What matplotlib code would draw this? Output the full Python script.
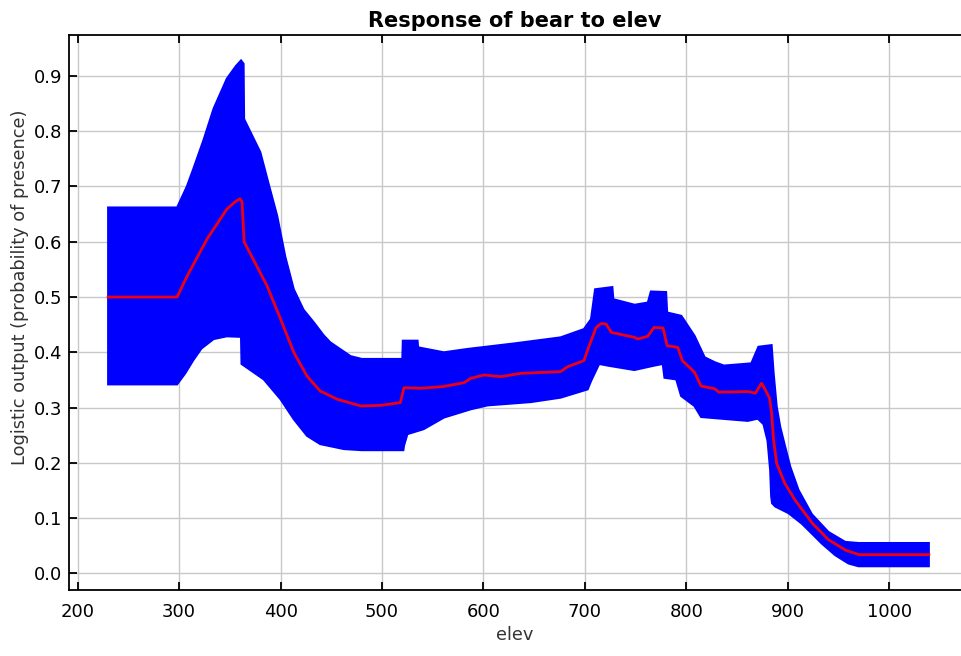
import matplotlib
matplotlib.use("Agg")
import matplotlib.pyplot as plt

# mean response (red line)
x_mean = [230, 298, 307.6, 327.5, 347, 355, 360, 362, 364, 386.7, 400, 413, 426, 439, 456, 479, 498.6, 518,
          521.6, 538, 560, 580.8, 587.5, 600.6, 617, 636.7, 676, 683, 699, 703, 711, 716, 721, 726, 749, 752,
          762, 768, 777, 781, 791.5, 796, 808, 814.5, 828, 832, 861, 868, 874, 877, 882, 884, 886, 889, 897,
          907, 924, 940, 957, 970, 1039]
y_mean = [0.5, 0.5, 0.537, 0.605, 0.659, 0.672, 0.678, 0.672, 0.600, 0.52, 0.46, 0.40, 0.357, 0.330, 0.315,
          0.303, 0.304, 0.309, 0.336, 0.335, 0.338, 0.345, 0.353, 0.359, 0.356, 0.362, 0.365, 0.374, 0.385,
          0.406, 0.445, 0.452, 0.451, 0.436, 0.427, 0.424, 0.429, 0.445, 0.444, 0.412, 0.409, 0.385, 0.364,
          0.339, 0.334, 0.328, 0.329, 0.326, 0.344, 0.335, 0.317, 0.290, 0.241, 0.199, 0.163, 0.133, 0.091,
          0.061, 0.042, 0.034, 0.034]

# mean + sd (upper edge of blue band)
x_upper = [230, 298, 307.6, 314, 324, 334, 347, 356, 361, 363.5, 364, 380, 388, 396.6, 404.6, 413, 422.6,
           432.8, 442.3, 449, 469, 480, 520, 520.5, 535, 535.5, 561, 584, 630, 676, 699, 706, 710, 727, 728,
           749, 762, 765, 780, 781, 795, 808, 818, 828, 837, 864, 871, 884, 886, 889, 892.5, 897.4, 902.4,
           910.5, 923.7, 940, 956.6, 969.6, 1039]
y_upper = [0.662, 0.662, 0.700, 0.732, 0.784, 0.841, 0.895, 0.918, 0.928, 0.922, 0.822, 0.762, 0.706, 0.647,
           0.573, 0.514, 0.477, 0.454, 0.431, 0.418, 0.393, 0.388, 0.388, 0.421, 0.421, 0.409, 0.400, 0.406,
           0.416, 0.427, 0.442, 0.460, 0.514, 0.518, 0.496, 0.486, 0.490, 0.510, 0.509, 0.472, 0.466, 0.430,
           0.391, 0.382, 0.376, 0.380, 0.410, 0.413, 0.362, 0.302, 0.265, 0.229, 0.193, 0.151, 0.107, 0.075,
           0.057, 0.055, 0.055]

# mean - sd (lower edge of blue band)
x_lower = [230, 298, 306, 314, 322, 334, 347, 361, 361.5, 383.4, 400, 413, 426, 439, 462.4, 480, 521, 521.6,
           525, 541, 561, 587.5, 604, 646.7, 676, 702.7, 706, 714, 722.4, 748.7, 768.4, 776.7, 778.4, 790,
           794.8, 807.9, 814.5, 860.5, 870.4, 876, 880, 882.6, 883.6, 884.5, 887.6, 900.7, 913.8, 923.7,
           933.5, 946.7, 959.8, 969.6, 1039]
y_lower = [0.342, 0.342, 0.362, 0.386, 0.407, 0.424, 0.429, 0.428, 0.379, 0.351, 0.315, 0.279, 0.249, 0.234,
           0.225, 0.223, 0.223, 0.231, 0.252, 0.261, 0.282, 0.297, 0.304, 0.310, 0.318, 0.333, 0.348, 0.379,
           0.376, 0.368, 0.376, 0.379, 0.354, 0.351, 0.321, 0.303, 0.283, 0.276, 0.280, 0.270, 0.24, 0.187,
           0.139, 0.127, 0.121, 0.109, 0.090, 0.072, 0.054, 0.033, 0.018, 0.013, 0.013]

x_ticks = [200, 300, 400, 500, 600, 700, 800, 900, 1000]
y_ticks = [0.0, 0.1, 0.2, 0.3, 0.4, 0.5, 0.6, 0.7, 0.8, 0.9]

plt.rcParams['font.family'] = ['DejaVu Sans']

fig = plt.figure(figsize=(9.61, 6.56), dpi=100)
ax = fig.add_axes([0.0721, 0.1006, 0.9279, 0.846])

# band
ax.fill(x_upper + x_lower[::-1], y_upper + y_lower[::-1], color='#0000ff', lw=1.5, zorder=2)
ax.plot(x_mean, y_mean, color='#ee0010', lw=2.0, zorder=3)

ax.set_xlim(191.7, 1070.7)
ax.set_ylim(-0.030, 0.974)
ax.set_xticks(x_ticks)
ax.set_yticks(y_ticks)
ax.set_yticklabels(['%.1f' % v for v in y_ticks])
ax.grid(True, color='#c8c8c8', lw=1.0, zorder=0)
ax.set_axisbelow(True)

ax.tick_params(direction='in', length=6, width=1.3, labelsize=13, top=True, colors='black')
ax.tick_params(axis='x', pad=9)
ax.tick_params(axis='y', pad=5)
for s in ['left', 'top', 'bottom']:
    ax.spines[s].set_linewidth(1.3)
ax.spines['right'].set_visible(False)

ax.set_title('Response of bear to elev', fontsize=15, fontweight='bold', pad=6)
ax.set_xlabel('elev', fontsize=12.8, labelpad=4, color='#333333')
ax.set_ylabel('Logistic output (probability of presence)', fontsize=12.8, color='#333333')
ax.yaxis.set_label_coords(-0.045, 0.545)

fig.savefig('out.png', dpi=100)
